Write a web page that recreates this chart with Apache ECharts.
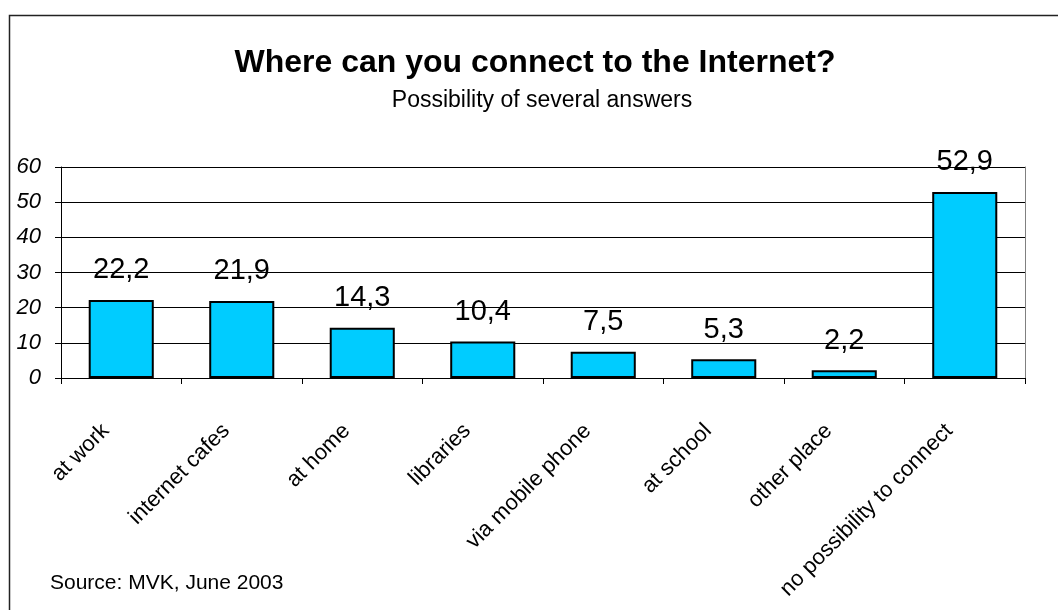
<!DOCTYPE html>
<html>
<head>
<meta charset="utf-8">
<script src="https://cdn.jsdelivr.net/npm/echarts@6/dist/echarts.min.js"></script>
<style>
  html, body { margin: 0; padding: 0; background: #fff; }
  #chart { width: 1058px; height: 610px; }
</style>
</head>
<body>
<div id="chart"></div>
<script>
// Places where respondents can connect to the Internet (%)
const categories = ['at work', 'internet cafes', 'at home', 'libraries',
  'via mobile phone', 'at school', 'other place', 'no possibility to connect'];
const shares = [22.2, 21.9, 14.3, 10.4, 7.5, 5.3, 2.2, 52.9];
const yTicks = { min: 0, max: 60, step: 10 };

const FONT = '"Liberation Sans", Arial, sans-serif';
const chart = echarts.init(document.getElementById('chart'), null, { renderer: 'canvas' });

chart.setOption({
  animation: false,
  backgroundColor: '#ffffff',
  title: [{
    text: 'Where can you connect to the Internet?',
    left: 535,
    textAlign: 'center',
    top: 47,
    padding: 0,
    textStyle: { fontFamily: FONT, fontSize: 32, fontWeight: 'bold', color: '#000' }
  }, {
    text: 'Possibility of several answers',
    left: 542,
    textAlign: 'center',
    top: 89,
    padding: 0,
    textStyle: { fontFamily: FONT, fontSize: 23, fontWeight: 'normal', color: '#000' }
  }],
  grid: { left: 61, right: 33, top: 167, bottom: 232, containLabel: false },
  xAxis: {
    type: 'category',
    data: categories,
    axisLine: { lineStyle: { color: '#000', width: 1 } },
    axisTick: { show: true, length: 6, lineStyle: { color: '#000' } },
    axisLabel: {
      rotate: 45,
      margin: 34,
      padding: [0, 22, 0, 0],
      interval: 0,
      fontFamily: FONT,
      fontSize: 22,
      color: '#000'
    }
  },
  yAxis: [{
    type: 'value',
    min: yTicks.min,
    max: yTicks.max,
    interval: yTicks.step,
    axisLine: { show: true, lineStyle: { color: '#000', width: 1 } },
    axisTick: { show: true, length: 6, lineStyle: { color: '#000' } },
    axisLabel: {
      fontFamily: FONT, fontSize: 22, fontStyle: 'italic', color: '#000', margin: 20
    },
    splitLine: { lineStyle: { color: '#000', width: 1 } }
  }, {
    type: 'value',
    position: 'right',
    min: yTicks.min,
    max: yTicks.max,
    interval: yTicks.step,
    axisLine: { show: true, lineStyle: { color: '#808080', width: 1 } },
    axisTick: { show: false },
    axisLabel: { show: false },
    splitLine: { show: false }
  }],
  series: [{
    type: 'bar',
    data: shares,
    yAxisIndex: 0,
    barWidth: '54%',
    itemStyle: { color: '#00CCFF', borderColor: '#000', borderWidth: 2 },
    label: {
      show: true,
      position: 'top',
      distance: 15,
      fontFamily: FONT,
      fontSize: 29,
      color: '#000',
      formatter: p => String(p.value).replace('.', ',')
    }
  }],
  graphic: [
    {
      type: 'rect',
      left: 7, top: 13,
      shape: { width: 1200, height: 800 },
      style: { fill: 'none', stroke: '#222', lineWidth: 1.5 },
      silent: true
    },
    {
      type: 'text',
      left: 50, top: 573,
      style: { text: 'Source: MVK, June 2003', font: '21px ' + FONT, fill: '#000' }
    }
  ]
});
</script>
</body>
</html>
